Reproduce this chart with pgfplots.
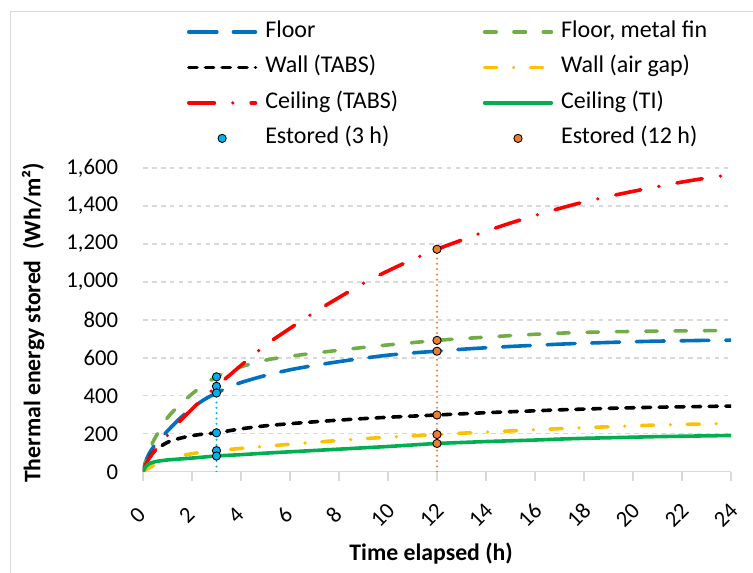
\documentclass[border=0pt]{standalone}
\usepackage{fontspec}
\setmainfont{Carlito}
\usepackage{pgfplots}
\pgfplotsset{compat=1.18}

\definecolor{cFloor}{HTML}{0070C0}
\definecolor{cFin}{HTML}{70AD47}
\definecolor{cAir}{HTML}{FFC000}
\definecolor{cCeil}{HTML}{FF0000}
\definecolor{cTI}{HTML}{00B050}
\definecolor{cThree}{HTML}{00B0F0}
\definecolor{cTwelve}{HTML}{ED7D31}
\definecolor{cGrid}{HTML}{D9D9D9}

\newcommand{\tickfont}{\fontsize{17}{20.4}\selectfont}
\newcommand{\legfont}{\fontsize{18}{21.6}\selectfont}
\newcommand{\labfont}{\fontsize{17.8}{21.4}\selectfont}

% time (h) vs. stored energy (Wh/m2)
\pgfplotstableread{
t   E
0    0
0.1  50
0.25 95
0.5  143
1    215
1.5  280
2    335
2.5  380
3    415
3.5  445
4    470
5    507
6    537
7    560
8    580
9    598
10   614
11   626
12   635
13   645
14   653
15   660
16   666
17   672
18   677
19   681
20   685
21   688
22   690
23   692
24   693
}\floor

\pgfplotstableread{
t   E
0    0
0.1  45
0.25 110
0.5  180
1    285
1.5  352
2    410
2.5  460
3    500
3.5  530
4    553
5    588
6    608
7    625
8    640
9    655
10   668
11   680
12   692
13   701
14   709
15   717
16   724
17   730
18   734
19   737
20   739
21   741
22   742
23   743
24   744
}\floorfin

\pgfplotstableread{
t   E
0    0
0.1  30
0.25 72
0.5  113
1    155
1.5  176
2    190
2.5  199
3    205
4    226
5    242
6    253
7    263
8    272
9    280
10   287
11   293
12   299
13   305
14   311
15   316
16   321
17   326
18   330
19   334
20   337
21   340
22   342
23   344
24   346
}\walltabs

\pgfplotstableread{
t   E
0    0
0.1  8
0.25 20
0.5  38
1    63
1.5  82
2    95
2.5  104
3    111
4    123
5    134
6    145
7    155
8    165
9    174
10   182
11   189
12   196
13   203
14   209
15   215
16   221
17   227
18   232
19   237
20   242
21   246
22   249
23   252
24   254
}\wallair

\pgfplotstableread{
t   E
0    0
0.1  35
0.25 70
0.5  115
1    192
1.5  265
2    330
2.5  392
3    450
3.5  505
4    560
5    667
6    755
7    840
8    918
9    993
10   1058
11   1118
12   1172
13   1220
14   1267
15   1310
16   1350
17   1387
18   1421
19   1450
20   1477
21   1502
22   1526
23   1547
24   1565
}\ceiltabs

\pgfplotstableread{
t   E
0    0
0.1  25
0.25 42
0.5  53
1    62
2    72
3    83
4    90
5    98
6    105
7    112
8    119
9    126
10   133
11   141
12   149
13   154
14   159
15   163
16   167
17   172
18   176
19   179
20   182
21   185
22   187
23   189
24   191
}\ceilti

\begin{document}
\begin{tikzpicture}
\path[use as bounding box] (-107.25pt,-75.2pt) rectangle (457.5pt,353.8pt);
% chart area border
\draw[cGrid, line width=0.75pt] (-99pt,-80pt) -- (-99pt,345.5pt) -- (470pt,345.5pt);
\begin{axis}[
  at={(0,0)}, anchor=south west,
  scale only axis, width=441pt, height=227.8pt,
  xmin=0, xmax=24, ymin=0, ymax=1600,
  xtick={0,2,...,24}, ytick={0,200,...,1600},
  axis x line*=bottom, axis y line*=left,
  y axis line style={draw=none},
  x axis line style={draw=cGrid, line width=1.1pt, -},
  xtick style={draw=cGrid, line width=1.1pt},
  ytick style={draw=none},
  tick align=outside,
  major tick length=7pt,
  ymajorgrids,
  grid style={draw=cGrid, line width=1pt, dash pattern=on 3.5pt off 3.2pt},
  /pgf/number format/assume math mode=true,
  /pgf/number format/1000 sep={,},
  yticklabel style={font=\tickfont, anchor=east, inner sep=0pt, xshift=-11.5pt},
  xticklabel style={font=\tickfont, anchor=center, inner sep=0pt, xshift=-4pt, yshift=-25.5pt, rotate=45},
  xlabel={\textbf{Time elapsed (h)}},
  ylabel={\textbf{Thermal energy stored\ \ (Wh/m²)}},
  xlabel style={font=\labfont, at={(axis description cs:0.49,-0.268)}, anchor=center},
  ylabel style={font=\labfont, at={(axis description cs:-0.187,0.49)}, anchor=center},
  legend columns=2,
  legend cell align=left,
  legend image code/.code={\draw[mark repeat=2, mark phase=2, #1] plot coordinates {(0pt,0pt) (25pt,0pt) (50pt,0pt)};},
  legend style={
    at={(axis description cs:0,1)}, anchor=north west, xshift=33pt, yshift=110pt,
    draw=none, fill=none, inner sep=0pt, outer sep=0pt,
    font=\legfont, row sep=10.6pt,
    nodes={inner sep=0pt, text height=12pt, text depth=4pt},
    /tikz/every odd column/.append style={column sep=6pt},
    /tikz/every even column/.append style={column sep=63.5pt},
  },
  every axis plot/.append style={line cap=round, line join=round},
]
% drop lines at 3 h and 12 h
\addplot[forget plot, cThree, line width=1.7pt, dash pattern=on 0pt off 4pt] coordinates {(3,0) (3,500)};
\addplot[forget plot, cTwelve, line width=1.7pt, dash pattern=on 0pt off 4pt] coordinates {(12,0) (12,1172)};

\addplot[cFloor, line width=2.7pt, smooth, dash pattern=on 21pt off 12.5pt] table[x=t,y=E] {\floor};
\addlegendentry{Floor}
\addplot[cFin, line width=2.7pt, smooth, dash pattern=on 8.65pt off 13.35pt] table[x=t,y=E] {\floorfin};
\addlegendentry{Floor, metal fin}
\addplot[black, line width=2.7pt, smooth, dash pattern=on 6.15pt off 6.35pt] table[x=t,y=E] {\walltabs};
\addlegendentry{Wall (TABS)}
\addplot[cAir, line width=2.7pt, smooth, dash pattern=on 9.2pt off 12.55pt on 0pt off 12.55pt] table[x=t,y=E] {\wallair};
\addlegendentry{Wall (air gap)}
\addplot[cCeil, line width=2.7pt, smooth, dash pattern=on 19.2pt off 13.8pt on 0pt off 13.8pt] table[x=t,y=E] {\ceiltabs};
\addlegendentry{Ceiling (TABS)}
\addplot[cTI, line width=2.7pt, smooth] table[x=t,y=E] {\ceilti};
\addlegendentry{Ceiling (TI)}

\addplot[only marks, mark=*, mark size=3.1pt, mark options={fill=cThree, draw=black, line width=0.65pt}]
  coordinates {(3,500) (3,450) (3,415) (3,205) (3,111) (3,83)};
\addlegendentry{Estored (3 h)}
\addplot[only marks, mark=*, mark size=3.1pt, mark options={fill=cTwelve, draw=black, line width=0.65pt}]
  coordinates {(12,1172) (12,692) (12,635) (12,299) (12,196) (12,149)};
\addlegendentry{Estored (12 h)}
\end{axis}
\end{tikzpicture}
\end{document}
